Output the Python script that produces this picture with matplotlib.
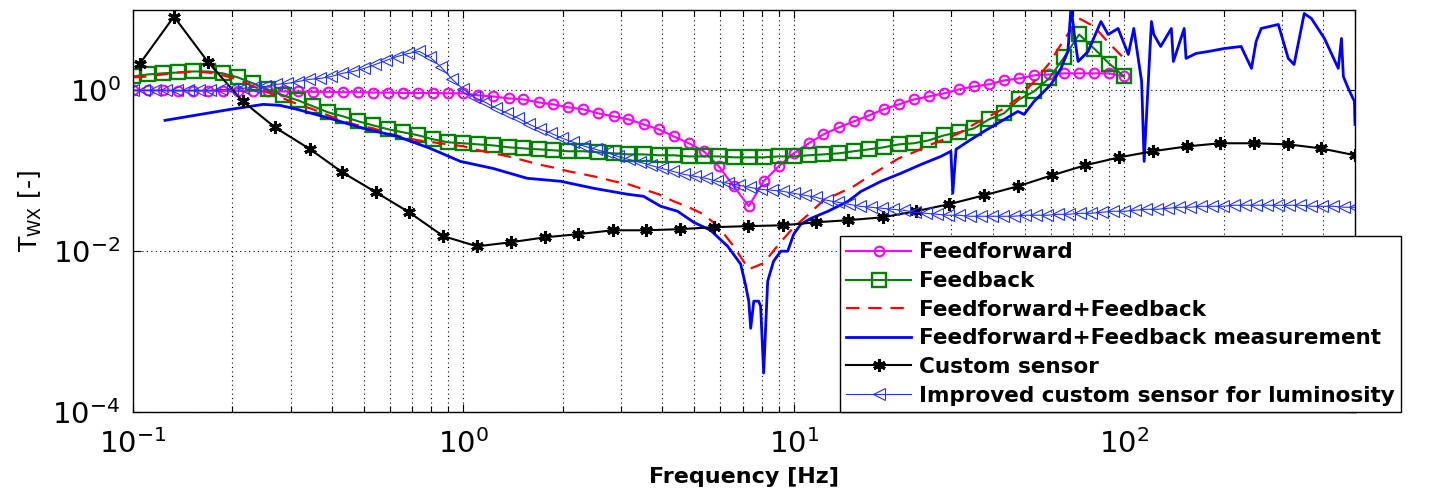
import numpy as np
import matplotlib
matplotlib.use('Agg')
import matplotlib.pyplot as plt
from matplotlib.ticker import LogLocator, NullLocator, NullFormatter

# model curves (feedforward, feedback, combined) share one frequency grid
freq_model = [0.1, 0.111, 0.123, 0.137, 0.152, 0.169, 0.187, 0.208, 0.231, 0.256, 0.285,
              0.316, 0.351, 0.390, 0.433, 0.481, 0.534, 0.593, 0.658, 0.731, 0.811, 0.901,
              1.0, 1.11, 1.23, 1.37, 1.52, 1.69, 1.87, 2.08, 2.31, 2.56, 2.85,
              3.16, 3.51, 3.90, 4.33, 4.81, 5.34, 5.93, 6.58, 7.31, 8.11, 9.01,
              10.0, 11.1, 12.3, 13.7, 15.2, 16.9, 18.7, 20.8, 23.1, 25.6, 28.5,
              31.6, 35.1, 39.0, 43.3, 48.1, 53.4, 59.3, 65.8, 73.1, 81.1, 90.1, 100.0]

feedforward = [1.0, 1.0, 1.0, 0.99, 0.99, 0.99, 0.98, 0.98, 0.98, 0.97, 0.97,
               0.97, 0.96, 0.96, 0.95, 0.95, 0.94, 0.94, 0.93, 0.93, 0.93, 0.92,
               0.918, 0.867, 0.842, 0.796, 0.773, 0.710, 0.670, 0.615, 0.581, 0.518, 0.475,
               0.436, 0.378, 0.328, 0.268, 0.220, 0.175, 0.114, 0.0642, 0.0363, 0.0741, 0.114,
               0.165, 0.220, 0.284, 0.347, 0.412, 0.489, 0.581, 0.670, 0.773, 0.842, 0.918,
               1.03, 1.12, 1.19, 1.33, 1.41, 1.54, 1.58, 1.63, 1.63, 1.63, 1.63, 1.49]

feedback = [1.49, 1.58, 1.63, 1.67, 1.72, 1.72, 1.63, 1.45, 1.22, 1.03, 0.867,
            0.751, 0.633, 0.533, 0.475, 0.412, 0.367, 0.328, 0.301, 0.276, 0.246, 0.226,
            0.220, 0.213, 0.207, 0.196, 0.190, 0.185, 0.180, 0.175, 0.175, 0.170, 0.165,
            0.160, 0.160, 0.156, 0.156, 0.151, 0.151, 0.151, 0.147, 0.147, 0.147, 0.151,
            0.151, 0.156, 0.160, 0.165, 0.175, 0.185, 0.196, 0.213, 0.220, 0.239, 0.276,
            0.301, 0.337, 0.436, 0.518, 0.773, 0.972, 1.41, 2.57, 4.96, 3.32, 2.16, 1.49]

ff_fb = [1.45, 1.49, 1.58, 1.67, 1.72, 1.67, 1.54, 1.37, 1.12, 0.944, 0.796,
         0.670, 0.581, 0.489, 0.412, 0.367, 0.337, 0.292, 0.261, 0.239, 0.226, 0.213,
         0.202, 0.180, 0.165, 0.151, 0.135, 0.120, 0.110, 0.0986, 0.0905, 0.0830, 0.0741,
         0.0679, 0.0589, 0.0511, 0.0418, 0.0352, 0.0288, 0.0199, 0.0115, 0.00597, 0.00710, 0.0122,
         0.0199, 0.0288, 0.0430, 0.0525, 0.0642, 0.0855, 0.110, 0.143, 0.170, 0.207, 0.246,
         0.292, 0.378, 0.475, 0.598, 0.819, 1.29, 2.16, 4.30, 7.84, 6.24, 3.84, 2.50]

# measured FF+FB transmissibility
freq_meas = [0.125, 0.160, 0.197, 0.248, 0.279, 0.314, 0.395, 0.498, 0.631, 0.794, 0.979,
             1.23, 1.56, 1.97, 2.48, 3.14, 3.51, 3.95, 4.45, 4.98, 5.60, 6.31,
             6.91, 7.16, 7.31, 7.41, 7.57, 7.83, 7.94, 8.11, 8.34, 8.69, 9.14, 9.59,
             10.0, 10.5, 11.3, 12.7, 14.6, 16.0, 18.4, 21.1, 24.3, 27.9, 29.9, 30.3, 31.0,
             33.7, 37.7, 42.4, 47.7, 49.8, 53.4, 60.1, 64.4, 67.6, 69.1, 71.1, 72.6, 77.8,
             85.1, 89.5, 95.9, 103, 107, 113, 115, 121, 123, 129, 139, 141, 152, 154,
             165, 180, 201, 226, 243, 251, 260, 293, 314, 327, 351, 369, 404, 445, 455,
             461, 477, 498, 500]
meas = [0.424, 0.503, 0.581, 0.670, 0.651, 0.581, 0.449, 0.337, 0.268, 0.190, 0.131,
        0.107, 0.0807, 0.0741, 0.0606, 0.0511, 0.0482, 0.0363, 0.0314, 0.0229, 0.0182, 0.0115,
        0.00690, 0.00367, 0.00239, 0.00110, 0.00239, 0.00239, 0.00207, 0.000305, 0.00424, 0.00751, 0.0100, 0.0100,
        0.0163, 0.0216, 0.0257, 0.0314, 0.0418, 0.0556, 0.0741, 0.0931, 0.120, 0.151, 0.175, 0.0525, 0.185,
        0.232, 0.310, 0.412, 0.548, 0.503, 0.730, 1.19, 1.88, 3.05, 11.1, 4.06, 2.29, 3.05,
        7.19, 4.96, 5.89, 2.80, 5.89, 1.29, 0.131, 7.19, 4.96, 3.52, 5.89, 2.29, 5.89, 2.50,
        2.88, 3.05, 3.32, 3.52, 1.88, 4.06, 5.89, 6.61, 2.50, 2.10, 9.05, 7.84, 4.43, 1.88, 4.43,
        1.49, 1.06, 0.730, 0.378]

# custom sensor
freq_custom = [0.105, 0.133, 0.169, 0.215, 0.269, 0.344, 0.430, 0.544, 0.685, 0.869,
               1.10, 1.39, 1.77, 2.23, 2.83, 3.56, 4.54, 5.72, 7.26, 9.26,
               11.7, 14.6, 18.6, 23.4, 29.5, 37.7, 47.7, 60.5, 76.2, 96.6,
               122, 155, 195, 248, 314, 395, 500]
custom = [2.16, 8.30, 2.23, 0.73, 0.347, 0.185, 0.0958, 0.054, 0.0305, 0.0154,
          0.0115, 0.0129, 0.0149, 0.0163, 0.0182, 0.0182, 0.0188, 0.0199, 0.0205, 0.0210,
          0.0229, 0.0243, 0.0264, 0.0314, 0.0384, 0.0496, 0.0642, 0.0879, 0.117, 0.147,
          0.175, 0.201, 0.220, 0.220, 0.213, 0.190, 0.156]

# improved custom sensor for luminosity
freq_improved = [0.1000, 0.1080, 0.1166, 0.1259, 0.1359, 0.1468, 0.1585, 0.1711, 0.1848, 0.1995,
                 0.2154, 0.2326, 0.2512, 0.2712, 0.2929, 0.3162, 0.3415, 0.3687, 0.3981, 0.4299,
                 0.4642, 0.5012, 0.5412, 0.5843, 0.6310, 0.6813, 0.7356, 0.7943, 0.8577, 0.9261,
                 1.000, 1.080, 1.166, 1.259, 1.359, 1.468, 1.585, 1.711, 1.848, 1.995,
                 2.154, 2.326, 2.512, 2.712, 2.929, 3.162, 3.415, 3.687, 3.981, 4.299,
                 4.642, 5.012, 5.412, 5.843, 6.310, 6.813, 7.356, 7.943, 8.577, 9.261,
                 10.00, 10.80, 11.66, 12.59, 13.59, 14.68, 15.85, 17.11, 18.48, 19.95,
                 21.54, 23.26, 25.12, 27.12, 29.29, 31.62, 34.15, 36.87, 39.81, 42.99,
                 46.42, 50.12, 54.12, 58.43, 63.10, 68.13, 73.56, 79.43, 85.77, 92.61,
                 100.0, 108.0, 116.6, 125.9, 135.9, 146.8, 158.5, 171.1, 184.8, 199.5,
                 215.4, 232.6, 251.2, 271.2, 292.9, 316.2, 341.5, 368.7, 398.1, 429.9,
                 464.2, 500.0]
improved = [1.00, 1.00, 1.00, 1.00, 1.00, 1.00, 1.00, 1.00, 1.03, 1.03,
            1.06, 1.09, 1.12, 1.19, 1.22, 1.29, 1.37, 1.41, 1.49, 1.63,
            1.72, 1.88, 2.10, 2.36, 2.64, 2.88, 3.05, 2.57, 1.93, 1.37,
            1.03, 0.819, 0.709, 0.598, 0.518, 0.449, 0.378, 0.328, 0.292, 0.253,
            0.226, 0.202, 0.185, 0.170, 0.151, 0.139, 0.128, 0.117, 0.107, 0.0986,
            0.0905, 0.0855, 0.0807, 0.0741, 0.0700, 0.0661, 0.0624, 0.0589, 0.0573, 0.0556,
            0.0525, 0.0496, 0.0469, 0.0430, 0.0406, 0.0384, 0.0362, 0.0352, 0.0342, 0.0332,
            0.0323, 0.0305, 0.0296, 0.0288, 0.0280, 0.0280, 0.0272, 0.0272, 0.0272, 0.0272,
            0.0272, 0.0280, 0.0280, 0.0280, 0.0288, 0.0288, 0.0296, 0.0296, 0.0305, 0.0314,
            0.0314, 0.0323, 0.0332, 0.0332, 0.0342, 0.0352, 0.0352, 0.0362, 0.0362, 0.0362,
            0.0373, 0.0373, 0.0373, 0.0373, 0.0373, 0.0373, 0.0373, 0.0362, 0.0362, 0.0362,
            0.0352, 0.0352]

labels = ['Feedforward', 'Feedback', 'Feedforward+Feedback',
          'Feedforward+Feedback measurement', 'Custom sensor',
          'Improved custom sensor for luminosity']

fig = plt.figure(figsize=(14.31, 4.92), dpi=100)
ax = fig.add_axes([133/1431, 1 - 412/492, 1222/1431, 402/492])

ax.plot(freq_model, feedforward, '-o', color='#FF00FF', lw=1.5, ms=7, mfc='none', mew=1.5, label=labels[0])
ax.plot(freq_model, feedback, '-s', color='#008000', lw=1.5, ms=10.5, mfc='none', mew=1.7, label=labels[1])
ax.plot(freq_model, ff_fb, '--', color='#FF0000', lw=1.6, dashes=(6, 4), label=labels[2])
ax.plot(freq_meas, meas, '-', color='#0000FF', lw=2.0, label=labels[3])
ax.plot(freq_custom, custom, '-', color='k', lw=1.5, marker=(6, 2, 0), ms=9, mew=2.2, label=labels[4])
ax.plot(freq_improved, improved, '-<', color='#2233FF', lw=0.8, ms=8, mfc='none', mew=0.8, label=labels[5])

ax.set_xscale('log')
ax.set_yscale('log')
ax.set_xlim(0.1, 500)
ax.set_ylim(1e-4, 10)
ax.set_yticks([1e-4, 1e-2, 1])
ax.yaxis.set_minor_locator(NullLocator())
ax.xaxis.set_major_locator(LogLocator(base=10, numticks=10))
ax.xaxis.set_minor_locator(LogLocator(base=10, subs=np.arange(2, 10), numticks=20))
ax.xaxis.set_minor_formatter(NullFormatter())

ax.grid(True, which='both', axis='x', ls=(0, (1, 3)), color='k', lw=0.8)
ax.grid(True, which='major', axis='y', ls=(0, (1, 3)), color='k', lw=0.8)
ax.tick_params(which='both', direction='in', top=True, right=True, labelsize=21, width=0.8)
ax.tick_params(which='major', length=6)
ax.tick_params(which='minor', length=4)
ax.tick_params(axis='y', pad=9)
ax.tick_params(axis='x', pad=12)
for s in ax.spines.values():
    s.set_linewidth(1.0)

ax.set_xlabel('Frequency [Hz]', fontsize=16, fontweight='bold', labelpad=6)
ax.set_ylabel(r'T$_{\mathrm{WX}}$ [-]', fontsize=18, labelpad=6)

leg = ax.legend(loc='upper left', bbox_to_anchor=(840/1431, 1 - 236/492),
                bbox_transform=fig.transFigure,
                prop=dict(family='DejaVu Sans', weight='bold', size=15.5),
                frameon=True, fancybox=False, edgecolor='k', framealpha=1,
                borderaxespad=0, handlelength=3.0, handletextpad=0.35,
                labelspacing=0.4, borderpad=0.3, numpoints=1)
leg.get_frame().set_linewidth(1.0)

fig.savefig('out.png', dpi=100)
